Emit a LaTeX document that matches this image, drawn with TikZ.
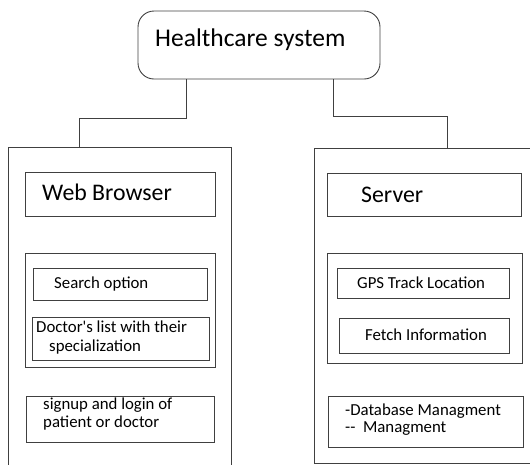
\documentclass[tikz,border=0pt]{standalone}
\usepackage{fontspec}
\setmainfont{Carlito}[Ligatures=TeXOff]
\begin{document}
\begin{tikzpicture}[x=1pt,y=-1pt,
  box/.style={draw=black!75,line width=0.9pt},
  lbl/.style={anchor=west,inner sep=0pt,font=\fontsize{16.8}{18}\selectfont},
  big/.style={anchor=west,inner sep=0pt,font=\fontsize{23.8}{26}\selectfont},
  wire/.style={draw=black!75,line width=0.9pt}]
\useasboundingbox (0,0) rectangle (530,464);
\begin{scope}
\clip (0,0) rectangle (530,464);
% top node
\draw[box,rounded corners=16pt] (138,11) rectangle (380,79);
\node[anchor=west,inner sep=0pt,font=\fontsize{25.5}{28}\selectfont] (hs) at (155,40) {Healthcare system};
% outer boxes
\draw[box] (8,147) rectangle (231,480);
\draw[box] (314,148) rectangle (545,463);
\coordinate (lt) at (79,147);
\coordinate (rt) at (447,148);
\coordinate (ls) at (186,79);
\coordinate (rs) at (333,79);
\draw[wire] (ls) -- (186,118) -- (79,118) -- (lt);
\draw[wire] (rs) -- (333,116) -- (447,116) -- (rt);
% left column
\draw[box] (25,172) rectangle (215,216);
\node[big] (wb) at (42,192) {Web Browser};
\draw[box] (25,253) rectangle (215,367);
\draw[box] (33,268) rectangle (207,300);
\node[lbl] (so) at (54,284) {Search option};
\draw[box] (32,317) rectangle (209,360);
\node[lbl] (dl1) at (36,327) {Doctor's list with their};
\node[lbl] (dl2) at (49,347) {specialization};
\draw[box] (26,396) rectangle (214,442);
\node[lbl] (su1) at (43,405) {signup and login of};
\node[lbl] (su2) at (43,423) {patient or doctor};
% right column
\draw[box] (327,173) rectangle (521,216);
\node[big] (sv) at (361,195) {Server};
\draw[box] (327,253) rectangle (522,363);
\draw[box] (337,268) rectangle (509,298);
\node[lbl] (gps) at (357,283) {GPS Track Location};
\draw[box] (339,318) rectangle (509,353);
\node[lbl] (fi) at (365,335) {Fetch Information};
\draw[box] (328,396) rectangle (523,447);
\node[lbl] (db1) at (345,411) {-Database Managment};
\node[lbl] (db2) at (345,429) {--\ \ Managment};
\end{scope}
\end{tikzpicture}
\end{document}
